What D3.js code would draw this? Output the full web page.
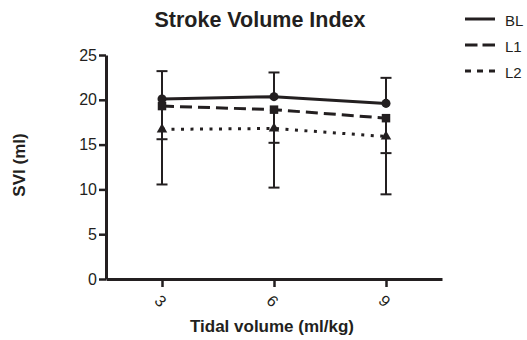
<!DOCTYPE html>
<html>
<head>
<meta charset="utf-8">
<script src="https://cdn.jsdelivr.net/npm/d3@7"></script>
<style>
  html, body { margin: 0; padding: 0; background: #fff; }
  svg { display: block; font-family: "Liberation Sans", Arial, Helvetica, sans-serif; }
</style>
</head>
<body>
<svg id="chart" width="527" height="340"></svg>
<script>
// Tidal volume settings (ml/kg)
const tidalVolumes = [3, 6, 9];
// Mean stroke volume index (ml) per phase
const blMean = [20.1, 20.35, 19.6];
const l1Mean = [19.3, 18.9, 17.95];
const l2Mean = [16.7, 16.8, 15.9];
// Standard deviations (BL drawn upward, L1 / L2 drawn downward)
const blSD = [3.1, 2.7, 2.85];
const l1SD = [3.7, 3.7, 3.9];
const l2SD = [6.15, 6.6, 6.45];
const yTicks = [0, 5, 10, 15, 20, 25];
const seriesNames = ["BL", "L1", "L2"];

const ink = "#231f20";
const svg = d3.select("#chart");

const x = d3.scaleLinear().domain([1.5, 10.5]).range([106, 442]);
const y = d3.scaleLinear().domain([0, 25]).range([279, 55]);

const series = [
  { name: seriesNames[0], mean: blMean, sd: blSD, dir: 1, dash: null, legendDash: null, marker: "circle" },
  { name: seriesNames[1], mean: l1Mean, sd: l1SD, dir: -1, dash: "12,6", legendDash: "12.5,5", marker: "square" },
  { name: seriesNames[2], mean: l2Mean, sd: l2SD, dir: -1, dash: "3,6.5", legendDash: "6,6", marker: "triangle" }
];

// Title
svg.append("text")
  .attr("x", 260).attr("y", 27)
  .attr("text-anchor", "middle")
  .attr("font-size", 21.5).attr("font-weight", "bold")
  .attr("fill", ink)
  .text("Stroke Volume Index");

// Axes
const yAxis = svg.append("g")
  .attr("transform", `translate(${x(1.5)},0)`)
  .call(d3.axisLeft(y).tickValues(yTicks).tickSize(7).tickPadding(2).tickSizeOuter(0));
yAxis.select(".domain").attr("stroke", ink).attr("stroke-width", 3);
yAxis.selectAll(".tick line").attr("stroke", ink).attr("stroke-width", 2.5);
yAxis.selectAll(".tick text").attr("fill", ink).attr("font-size", 16)
  .attr("font-family", "Liberation Sans, Arial, sans-serif");

const xAxis = svg.append("g")
  .attr("transform", `translate(0,${y(0)})`)
  .call(d3.axisBottom(x).tickValues(tidalVolumes).tickSize(8).tickSizeOuter(0));
xAxis.select(".domain").attr("stroke", ink).attr("stroke-width", 3);
xAxis.selectAll(".tick line").attr("stroke", ink).attr("stroke-width", 2.5);
xAxis.selectAll(".tick text")
  .attr("fill", ink).attr("font-size", 16)
  .attr("font-family", "Liberation Sans, Arial, sans-serif")
  .attr("x", 0).attr("y", 0).attr("dy", null)
  .attr("text-anchor", "middle")
  .attr("dominant-baseline", "central")
  .attr("transform", "translate(-2,22) rotate(45)");

// Axis titles
svg.append("text")
  .attr("x", 272).attr("y", 332)
  .attr("text-anchor", "middle")
  .attr("font-size", 17).attr("font-weight", "bold")
  .attr("fill", ink)
  .text("Tidal volume (ml/kg)");

svg.append("text")
  .attr("transform", "translate(25,165) rotate(-90)")
  .attr("text-anchor", "middle")
  .attr("font-size", 17).attr("font-weight", "bold")
  .attr("fill", ink)
  .text("SVI (ml)");

const plot = svg.append("g");

// Error bars (one-sided)
series.forEach(s => {
  const g = plot.append("g");
  tidalVolumes.forEach((tv, i) => {
    const end = s.mean[i] + s.dir * s.sd[i];
    g.append("line")
      .attr("x1", x(tv)).attr("x2", x(tv))
      .attr("y1", y(s.mean[i])).attr("y2", y(end))
      .attr("stroke", ink).attr("stroke-width", 2);
    g.append("line")
      .attr("x1", x(tv) - 5.5).attr("x2", x(tv) + 5.5)
      .attr("y1", y(end)).attr("y2", y(end))
      .attr("stroke", ink).attr("stroke-width", 2);
  });
});

// Connecting lines
const line = d3.line().x(d => x(d[0])).y(d => y(d[1]));
series.forEach(s => {
  plot.append("path")
    .datum(tidalVolumes.map((tv, i) => [tv, s.mean[i]]))
    .attr("d", line)
    .attr("fill", "none")
    .attr("stroke", ink)
    .attr("stroke-width", 3)
    .attr("stroke-dasharray", s.dash);
});

// Markers
const symbolType = { circle: d3.symbolCircle, square: d3.symbolSquare, triangle: d3.symbolTriangle };
const symbolSize = { circle: 64, square: 72, triangle: 48 };
series.forEach(s => {
  plot.selectAll(null)
    .data(tidalVolumes.map((tv, i) => [tv, s.mean[i]]))
    .join("path")
    .attr("transform", d => `translate(${x(d[0])},${y(d[1])})`)
    .attr("d", d3.symbol().type(symbolType[s.marker]).size(symbolSize[s.marker]))
    .attr("fill", ink);
});

// Legend
const legendY = [19, 45, 71];
const legend = svg.append("g");
series.forEach((s, i) => {
  legend.append("line")
    .attr("x1", 465).attr("x2", 495)
    .attr("y1", legendY[i]).attr("y2", legendY[i])
    .attr("stroke", ink).attr("stroke-width", 3)
    .attr("stroke-dasharray", s.legendDash);
  legend.append("text")
    .attr("x", 505).attr("y", legendY[i] + 1)
    .attr("dominant-baseline", "central")
    .attr("font-size", 15)
    .attr("fill", ink)
    .text(s.name);
});
</script>
</body>
</html>
